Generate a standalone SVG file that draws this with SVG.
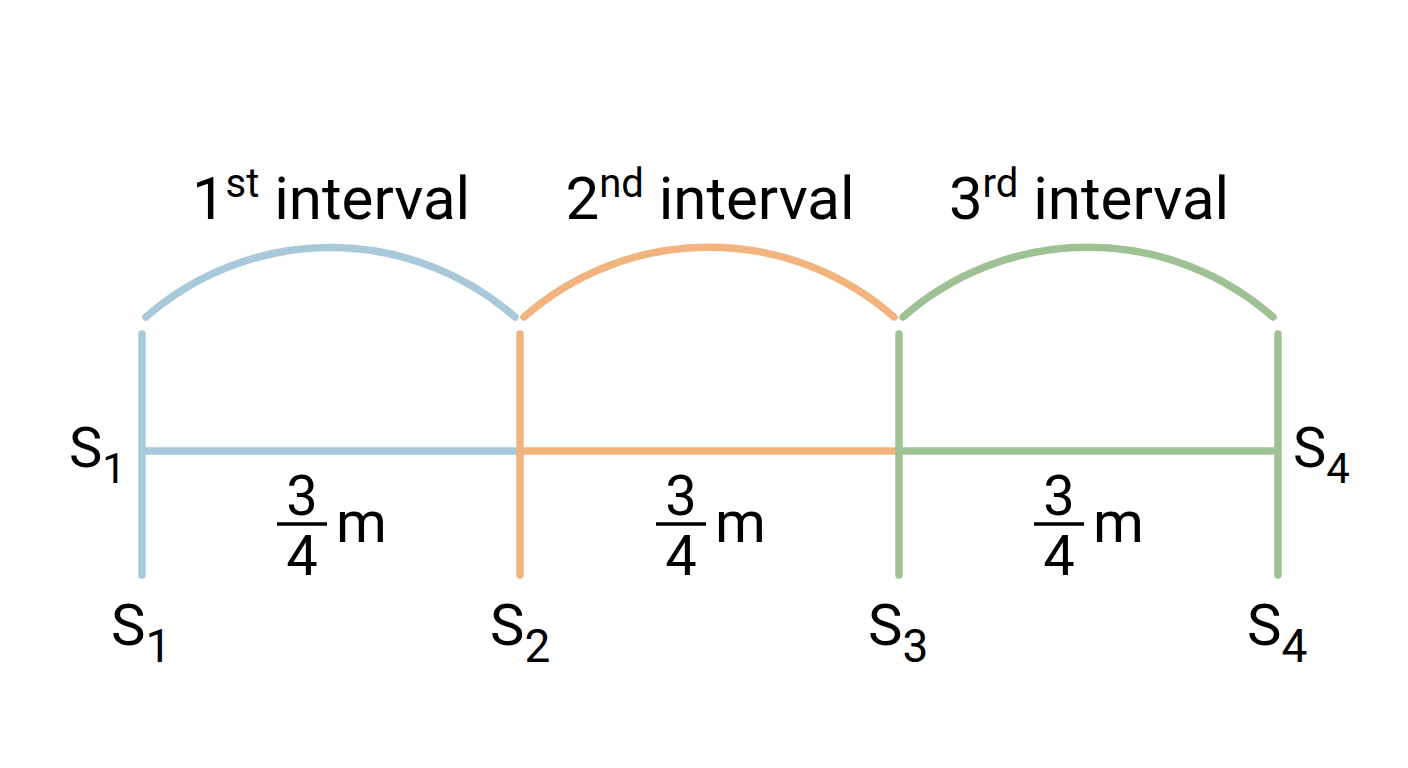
<svg xmlns="http://www.w3.org/2000/svg" width="1408" height="768" viewBox="0 0 1408 768">
<style>
.t{font-family:Roboto,"Liberation Sans",sans-serif;fill:#000}
.ln{fill:none;stroke-width:7.5;stroke-linecap:round}
.b{stroke:#A8C9DA}.o{stroke:#F1B47F}.g{stroke:#9EC294}
.fr{stroke:#000;stroke-width:3.5}
</style>
<rect width="1408" height="768" fill="#fff"/>
<g id="connectors">
<path class="ln b" d="M146 317 A280 280 0 0 1 515 317"/>
<path class="ln o" d="M524 317 A280 280 0 0 1 894 317"/>
<path class="ln g" d="M903 317 A280 280 0 0 1 1273 317"/>
<line class="ln b" x1="142" y1="451" x2="520" y2="451" style="stroke-linecap:butt"/>
<line class="ln o" x1="520" y1="451" x2="899" y2="451" style="stroke-linecap:butt"/>
<line class="ln g" x1="899" y1="451" x2="1278" y2="451" style="stroke-linecap:butt"/>
<line class="ln b" x1="142" y1="334" x2="142" y2="575"/>
<line class="ln o" x1="520" y1="334" x2="520" y2="575"/>
<line class="ln g" x1="899" y1="334" x2="899" y2="575"/>
<line class="ln g" x1="1278" y1="334" x2="1278" y2="575"/>
</g>
<g id="interval1">
<text class="t" x="331" y="219" font-size="60" text-anchor="middle">1<tspan font-size="40" dy="-22">st</tspan><tspan dy="22"> interval</tspan></text>
<text class="t" x="302" y="515" font-size="56" text-anchor="middle">3</text>
<line class="fr" x1="277" y1="524" x2="327" y2="524"/>
<text class="t" x="302" y="575" font-size="56" text-anchor="middle">4</text>
<text class="t" x="336" y="542" font-size="58">m</text>
</g>
<g id="interval2">
<text class="t" x="710" y="219" font-size="60" text-anchor="middle">2<tspan font-size="40" dy="-22">nd</tspan><tspan dy="22"> interval</tspan></text>
<text class="t" x="681" y="515" font-size="56" text-anchor="middle">3</text>
<line class="fr" x1="656" y1="524" x2="706" y2="524"/>
<text class="t" x="681" y="575" font-size="56" text-anchor="middle">4</text>
<text class="t" x="715" y="542" font-size="58">m</text>
</g>
<g id="interval3">
<text class="t" x="1089" y="219" font-size="60" text-anchor="middle">3<tspan font-size="40" dy="-22">rd</tspan><tspan dy="22"> interval</tspan></text>
<text class="t" x="1059" y="515" font-size="56" text-anchor="middle">3</text>
<line class="fr" x1="1034" y1="524" x2="1084" y2="524"/>
<text class="t" x="1059" y="575" font-size="56" text-anchor="middle">4</text>
<text class="t" x="1093" y="542" font-size="58">m</text>
</g>
<g id="labels">
<text class="t" x="69" y="467" font-size="56">S<tspan font-size="42" dy="16">1</tspan></text>
<text class="t" x="1293" y="467" font-size="56">S<tspan font-size="42" dy="16">4</tspan></text>
<text class="t" x="111" y="645" font-size="58">S<tspan font-size="46" dy="17">1</tspan></text>
<text class="t" x="490" y="645" font-size="58">S<tspan font-size="46" dy="17">2</tspan></text>
<text class="t" x="868" y="645" font-size="58">S<tspan font-size="46" dy="17">3</tspan></text>
<text class="t" x="1247" y="645" font-size="58">S<tspan font-size="46" dy="17">4</tspan></text>
</g>
</svg>
